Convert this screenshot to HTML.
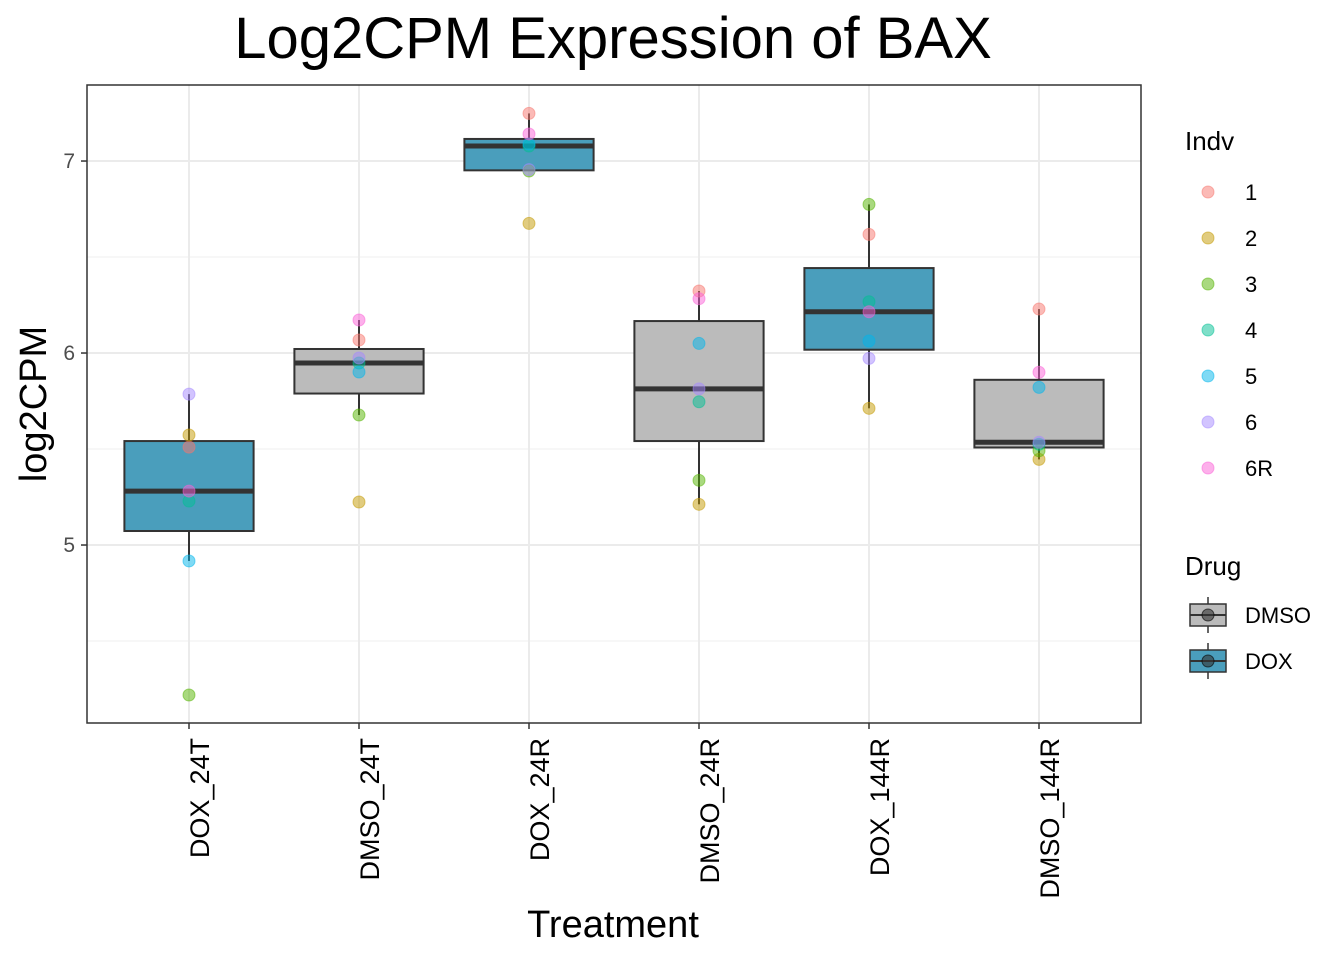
<!DOCTYPE html>
<html><head><meta charset="utf-8"><style>
html,body{margin:0;padding:0;background:#fff;}
svg text{font-family:"Liberation Sans",Arial,sans-serif;}
</style></head><body>
<svg id="chart" width="1344" height="960" viewBox="0 0 1344 960" xmlns="http://www.w3.org/2000/svg">
<rect x="0" y="0" width="1344" height="960" fill="#fff"/>
<text x="613" y="58" font-size="58" text-anchor="middle" fill="#000">Log2CPM Expression of BAX</text>
<g id="plot"></g>
<text x="613" y="937" font-size="38" text-anchor="middle" fill="#000">Treatment</text>
<text transform="translate(46,404) rotate(-90)" font-size="38" text-anchor="middle" fill="#000">log2CPM</text>
<g id="legend"></g>
</svg>
<script>
const categories = ["DOX_24T","DMSO_24T","DOX_24R","DMSO_24R","DOX_144R","DMSO_144R"];
const drugs = ["DOX","DMSO","DOX","DMSO","DOX","DMSO"];
const indvs = ["1","2","3","4","5","6","6R"];
const indvColors = ["#F8766D","#C49A00","#53B400","#00C094","#00B6EB","#A58AFF","#FB61D7"];
// values per category, ordered by indv 1,2,3,4,5,6,6R
const values = [
  [5.51,5.573,4.219,5.229,4.917,5.786,5.281],
  [6.068,5.224,5.677,5.948,5.901,5.974,6.172],
  [7.248,6.675,6.948,7.078,7.089,6.955,7.141],
  [6.323,5.212,5.337,5.746,6.05,5.813,6.283],
  [6.618,5.712,6.774,6.267,6.0625,5.972,6.215],
  [6.229,5.446,5.491,5.525,5.821,5.535,5.9]
];
const yTicks = [5,6,7];
const yMinor = [4.5,5.5,6.5];
const drugColors = {DMSO:"#BBBBBB", DOX:"#4A9EBC"};

const NS="http://www.w3.org/2000/svg";
const L=87,R=1141,T=85,B=723, yMin=4.073, yMax=7.396;
const yScale=v=>B-(v-yMin)/(yMax-yMin)*(B-T);
const step=(R-L)/(categories.length-1+1.2);
const xScale=i=>L+step*(i+0.6);
function mk(tag,attrs,parent){const e=document.createElementNS(NS,tag);for(const k in attrs)e.setAttribute(k,attrs[k]);parent.appendChild(e);return e;}
const plot=document.getElementById('plot');
mk('rect',{x:L,y:T,width:R-L,height:B-T,fill:'#fff'},plot);
yMinor.forEach(v=>mk('line',{x1:L,x2:R,y1:yScale(v),y2:yScale(v),stroke:'#f2f2f2','stroke-width':1.2},plot));
yTicks.forEach(v=>mk('line',{x1:L,x2:R,y1:yScale(v),y2:yScale(v),stroke:'#ebebeb','stroke-width':2},plot));
categories.forEach((c,i)=>mk('line',{x1:xScale(i),x2:xScale(i),y1:T,y2:B,stroke:'#ebebeb','stroke-width':2},plot));
function q(s,p){const pos=(s.length-1)*p,lo=Math.floor(pos),hi=Math.ceil(pos);return s[lo]+(s[hi]-s[lo])*(pos-lo);}
const bw=step*0.76;
categories.forEach((c,i)=>{
  const s=[...values[i]].sort((a,b)=>a-b);
  const q1=q(s,.25),med=q(s,.5),q3=q(s,.75),iqr=q3-q1;
  const lo=Math.min(...s.filter(v=>v>=q1-1.5*iqr)),hi=Math.max(...s.filter(v=>v<=q3+1.5*iqr));
  const g=mk('g',{},plot);
  
  
  const x=xScale(i);
  mk('line',{x1:x,x2:x,y1:yScale(hi),y2:yScale(q3),stroke:'#333','stroke-width':2},g);
  mk('line',{x1:x,x2:x,y1:yScale(q1),y2:yScale(lo),stroke:'#333','stroke-width':2},g);
  mk('rect',{x:x-bw/2,y:yScale(q3),width:bw,height:yScale(q1)-yScale(q3),fill:drugColors[drugs[i]],stroke:'#333','stroke-width':2},g);
  mk('line',{x1:x-bw/2,x2:x+bw/2,y1:yScale(med),y2:yScale(med),stroke:'#333','stroke-width':5},g);
  values[i].forEach((v,k)=>{
    const p=mk('circle',{cx:x,cy:yScale(v),r:6,fill:indvColors[k],'fill-opacity':0.5,stroke:indvColors[k],'stroke-opacity':0.5},g);
    
    
  });
});
mk('rect',{x:L,y:T,width:R-L,height:B-T,fill:'none',stroke:'#333','stroke-width':1.5},plot);
yTicks.forEach(v=>{
  mk('line',{x1:L-6,x2:L,y1:yScale(v),y2:yScale(v),stroke:'#333','stroke-width':1.5},plot);
  const t=mk('text',{x:L-12,y:yScale(v)+7,'font-size':21,'text-anchor':'end',fill:'#4d4d4d'},plot);
  t.textContent=v;
  
  
});
categories.forEach((c,i)=>{
  const x=xScale(i);
  mk('line',{x1:x,x2:x,y1:B,y2:B+6,stroke:'#333','stroke-width':1.5},plot);
  const t=mk('text',{transform:`translate(${x+20},${B+15}) rotate(-90)`,'font-size':27,'text-anchor':'end',fill:'#000'},plot);
  t.textContent=c;
  
  
});
const leg=document.getElementById('legend');
const t1=mk('text',{x:1185,y:150,'font-size':26,fill:'#000'},leg);t1.textContent='Indv';


indvs.forEach((d,k)=>{
  const y=192+46*k;
  const g=mk('g',{},leg);
  
  
  mk('circle',{cx:1208,cy:y,r:6,fill:indvColors[k],'fill-opacity':0.5,stroke:indvColors[k],'stroke-opacity':0.5},g);
  const t=mk('text',{x:1245,y:y+8,'font-size':22,fill:'#000'},g);t.textContent=d;
});
const t2=mk('text',{x:1185,y:575,'font-size':26,fill:'#000'},leg);t2.textContent='Drug';


["DMSO","DOX"].forEach((d,k)=>{
  const y=615+46*k;
  const g=mk('g',{},leg);
  
  
  mk('line',{x1:1208,x2:1208,y1:y-18,y2:y+18,stroke:'#333','stroke-width':1.5},g);
  mk('rect',{x:1190,y:y-11,width:36,height:22,fill:drugColors[d],stroke:'#333','stroke-width':1.5},g);
  mk('line',{x1:1190,x2:1226,y1:y,y2:y,stroke:'#333','stroke-width':2},g);
  mk('circle',{cx:1208,cy:y,r:6,fill:'#333','fill-opacity':0.6,stroke:'#000','stroke-opacity':0.6},g);
  const t=mk('text',{x:1245,y:y+8,'font-size':22,fill:'#000'},g);t.textContent=d;
});
</script>
</body></html>
